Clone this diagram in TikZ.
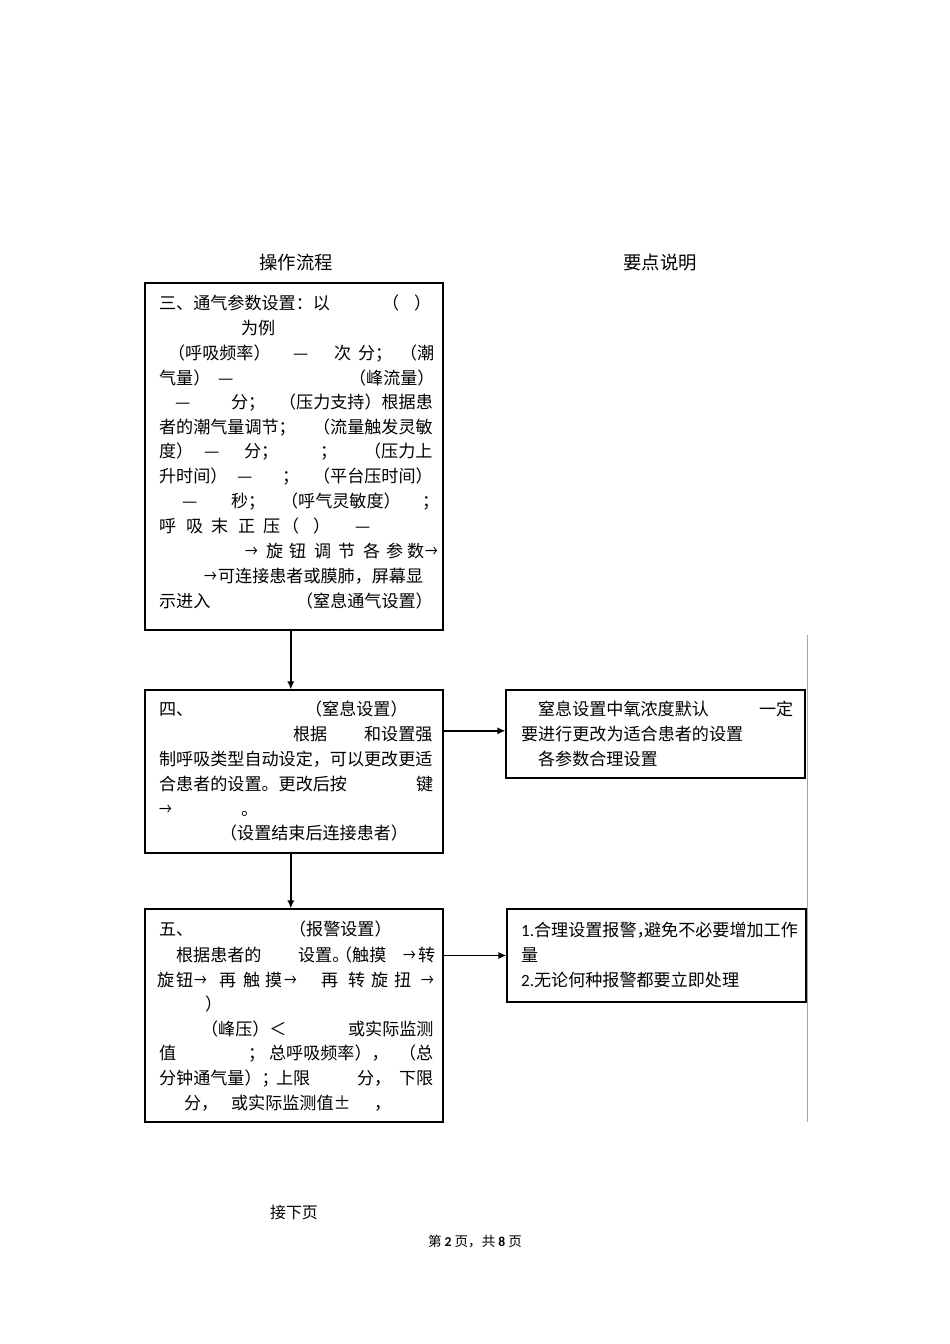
\documentclass[tikz,border=0pt]{standalone}
\usepackage{fontspec}
\usepackage{graphicx}
\setmainfont{Noto Sans CJK SC}
\newfontfamily\numfont{Carlito}
\usetikzlibrary{arrows.meta,fit}

\newlength\pxu
\setlength\pxu{0.6263pt}
\newcommand\tfrag[2]{\makebox[0pt][l]{\hspace*{#1\pxu}#2}}
\newcommand\narr{\scalebox{0.75}[1]{→}}

\tikzset{
  flowbox/.style={draw, line width=0.8pt, inner sep=0pt},
  txtline/.style={anchor=base west, inner sep=0pt, font=\fontsize{10.7pt}{13pt}\selectfont},
  headline/.style={inner sep=0pt, font=\fontsize{11.5pt}{14pt}\selectfont},
  flowarrow/.style={-{Latex[length=5pt,width=4.5pt]}, line width=0.9pt},
}

\begin{document}
\begin{tikzpicture}[x=0.6263pt, y=-0.6263pt]
\useasboundingbox (0,0) rectangle (950,1344);

% 标题
\node[headline] (hflow) at (296,263) {操作流程};
\node[headline] (hnote) at (660,263) {要点说明};

% 方框
\node[flowbox, fit={(145,283) (443,630)}] (sec3) {};
\node[flowbox, fit={(145,690) (443,853)}] (sec4) {};
\node[flowbox, fit={(145,909) (443,1122)}] (sec5) {};
\node[flowbox, fit={(506,690) (805,778)}] (note4) {};
\node[flowbox, fit={(507,909) (806,1002)}] (note5) {};

% 三、通气参数设置
\node[txtline] (s3a) at (158,309.5) {\tfrag{0}{三、通气参数设置：以}\tfrag{223}{（}\tfrag{255}{）}};
\node[txtline] (s3b) at (158,334) {\tfrag{82}{为例}};
\node[txtline] (s3c) at (158,359) {\tfrag{9}{（呼吸频率）}\tfrag{134}{—}\tfrag{175}{次}\tfrag{199}{分；}\tfrag{241}{（潮}};
\node[txtline] (s3d) at (158,384) {\tfrag{0}{气量）}\tfrag{59}{—}\tfrag{190}{（峰流量）}};
\node[txtline] (s3e) at (158,408.5) {\tfrag{16}{—}\tfrag{72}{分；}\tfrag{120}{（压力支持）根据患}};
\node[txtline] (s3f) at (158,433.5) {\tfrag{0}{者的潮气量调节；}\tfrag{154}{（流量触发灵敏}};
\node[txtline] (s3g) at (158,457.5) {\tfrag{0}{度）}\tfrag{45}{—}\tfrag{85}{分；}\tfrag{161}{；}\tfrag{205}{（压力上}};
\node[txtline] (s3h) at (158,482.5) {\tfrag{0}{升时间）}\tfrag{78}{—}\tfrag{123}{；}\tfrag{154}{（平台压时间）}};
\node[txtline] (s3i) at (158,507.5) {\tfrag{23}{—}\tfrag{72}{秒；}\tfrag{122}{（呼气灵敏度）}\tfrag{263}{；}};
\node[txtline] (s3j) at (158,532.5) {\tfrag{0}{呼}\tfrag{27}{吸}\tfrag{52}{末}\tfrag{79}{正}\tfrag{104}{压}\tfrag{123}{（}\tfrag{154}{）}\tfrag{196}{—}};
\node[txtline] (s3k) at (158,557.5) {\tfrag{86}{\narr}\tfrag{107}{旋}\tfrag{130}{钮}\tfrag{155}{调}\tfrag{179}{节}\tfrag{204}{各}\tfrag{227}{参}\tfrag{248}{数}\tfrag{266}{\narr}};
\node[txtline] (s3l) at (158,582.5) {\tfrag{45}{\narr}\tfrag{59}{可连接患者或膜肺，屏幕显}};
\node[txtline] (s3m) at (158,607.5) {\tfrag{0}{示进入}\tfrag{137}{（窒息通气设置）}};

% 四、窒息设置
\node[txtline] (s4a) at (158,715.5) {\tfrag{0}{四、}\tfrag{146}{（窒息设置）}};
\node[txtline] (s4b) at (158,740.5) {\tfrag{134}{根据}\tfrag{205}{和设置强}};
\node[txtline] (s4c) at (158,765.5) {\tfrag{0}{制呼吸类型自动设定，可以更改更适}};
\node[txtline] (s4d) at (158,790.5) {\tfrag{0}{合患者的设置。更改后按}\tfrag{257}{键}};
\node[txtline] (s4e) at (158,815.5) {\tfrag{0}{\narr}\tfrag{82}{。}};
\node[txtline] (s4f) at (158,839.5) {\tfrag{61}{（设置结束后连接患者）}};

% 五、报警设置
\node[txtline] (s5a) at (158,935.5) {\tfrag{0}{五、}\tfrag{130}{（报警设置）}};
\node[txtline] (s5b) at (158,961) {\tfrag{17}{根据患者的}\tfrag{139}{设置。}\tfrag{176}{（触摸}\tfrag{244}{\narr}\tfrag{259}{转}};
\node[txtline] (s5c) at (158,986) {\tfrag{-2}{旋}\tfrag{17}{钮}\tfrag{35}{\narr}\tfrag{60}{再}\tfrag{84}{触}\tfrag{106}{摸}\tfrag{125}{\narr}\tfrag{162}{再}\tfrag{189}{转}\tfrag{212}{旋}\tfrag{235}{扭}\tfrag{262}{\narr}};
\node[txtline] (s5d) at (158,1010) {\tfrag{46}{）}};
\node[txtline] (s5e) at (158,1035) {\tfrag{42}{（峰压）＜}\tfrag{189}{或实际监测}};
\node[txtline] (s5f) at (158,1059.5) {\tfrag{0}{值}\tfrag{89}{；}\tfrag{110}{总呼吸频率），}\tfrag{240}{（总}};
\node[txtline] (s5g) at (158,1084.5) {\tfrag{0}{分钟通气量）；}\tfrag{117}{上限}\tfrag{198}{分，}\tfrag{240}{下限}};
\node[txtline] (s5h) at (158,1109) {\tfrag{25}{分，}\tfrag{72}{或实际监测值±}\tfrag{215}{，}};

% 要点说明
\node[txtline] (n4a) at (520,715.5) {\tfrag{17}{窒息设置中氧浓度默认}\tfrag{238}{一定}};
\node[txtline] (n4b) at (520,740.5) {\tfrag{0}{要进行更改为适合患者的设置}};
\node[txtline] (n4c) at (520,765.5) {\tfrag{17}{各参数合理设置}};
\node[txtline] (n5a) at (520,936) {\tfrag{0}{{\numfont 1.}合理设置报警，}\tfrag{123}{避免不必要增加工作}};
\node[txtline] (n5b) at (520,961) {\tfrag{0}{量}};
\node[txtline] (n5c) at (520,986) {\tfrag{0}{{\numfont 2.}无论何种报警都要立即处理}};

% 箭头
\draw[flowarrow] ([xshift=-2pt]sec3.south) -- ([xshift=-2pt]sec4.north);
\draw[flowarrow] ([xshift=-2pt]sec4.south) -- ([xshift=-2pt]sec5.north);
\draw[flowarrow] ([yshift=2pt]note4.west -| sec4.east) -- ([yshift=2pt]note4.west);
\draw[flowarrow] (note5.west -| sec5.east) -- (note5.west);

% 右侧竖线
\draw[gray!70, line width=0.6pt] (807,635) -- (807,1122);

% 页脚
\node[inner sep=0pt, font=\fontsize{10pt}{12pt}\selectfont] (cont) at (294,1212) {接下页};
\node[inner sep=0pt, font=\fontsize{8.5pt}{10pt}\selectfont] (pgno) at (475,1241) {第 {\numfont\bfseries 2} 页，共 {\numfont\bfseries 8} 页};
\end{tikzpicture}
\end{document}
